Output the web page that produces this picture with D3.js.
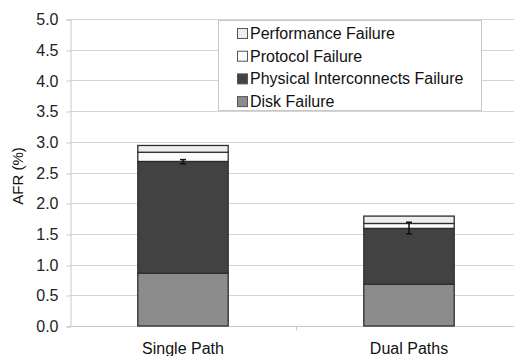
<!DOCTYPE html>
<html>
<head>
<meta charset="utf-8">
<script src="https://cdn.jsdelivr.net/npm/d3@7"></script>
<style>
  body { margin: 0; background: #fff; }
  svg { display: block; font-family: "Liberation Sans", Arial, sans-serif; }
</style>
</head>
<body>
<svg id="chart" width="514" height="356"></svg>
<script>
// AFR breakdown per path configuration (values in %)
const categories = ["Single Path", "Dual Paths"];
const seriesNames = ["Disk Failure", "Physical Interconnects Failure", "Protocol Failure", "Performance Failure"];
const diskFailure = [0.86, 0.68];
const physicalFailure = [1.82, 0.91];
const protocolFailure = [0.15, 0.08];
const performanceFailure = [0.11, 0.12];
// error bars on the cumulative disk + interconnect level
const errLow = [2.64, 1.50];
const errHigh = [2.71, 1.69];
const yTicks = [0, 0.5, 1, 1.5, 2, 2.5, 3, 3.5, 4, 4.5, 5];

const fills = {
  "Disk Failure": "#8c8c8c",
  "Physical Interconnects Failure": "#424242",
  "Protocol Failure": "#fbfbfb",
  "Performance Failure": "#ededed"
};

const svg = d3.select("#chart");
const margin = { left: 70, top: 19 };
const plotW = 452, plotH = 307;

const x = d3.scaleBand().domain(categories).range([margin.left, margin.left + plotW]).paddingInner(0.6).paddingOuter(0.3);
const xEdge = d3.scaleBand().domain(categories).range([margin.left, margin.left + plotW]);
const y = d3.scaleLinear().domain([0, 5]).range([margin.top + plotH, margin.top]);

// gridlines
svg.append("g").selectAll("line").data(yTicks.filter(d => d > 0)).join("line")
  .attr("x1", margin.left).attr("x2", margin.left + plotW)
  .attr("y1", d => Math.round(y(d)) + 0.5).attr("y2", d => Math.round(y(d)) + 0.5)
  .attr("stroke", "#d4d4d4").attr("stroke-width", 1);

// y axis
const yAxis = svg.append("g").attr("transform", `translate(${margin.left + 0.5},0.5)`)
  .call(d3.axisLeft(y).tickValues(yTicks).tickFormat(d3.format(".1f")).tickSize(4).tickPadding(8));
yAxis.select(".domain").attr("stroke", "#c8c8c8");
yAxis.selectAll(".tick line").attr("stroke", "#c8c8c8").attr("transform", d => `translate(0,${Math.round(y(d)) - y(d)})`);
yAxis.selectAll(".tick text").attr("font-size", 16).attr("fill", "#222").attr("font-family", "Liberation Sans, Arial, sans-serif");

// x axis
const xAxisG = svg.append("g").attr("transform", `translate(0.5,${Math.round(y(0)) + 0.5})`);
xAxisG.append("line").attr("x1", margin.left).attr("x2", margin.left + plotW).attr("stroke", "#c8c8c8");
xAxisG.selectAll("line.tk").data(categories.slice(1)).join("line").attr("class", "tk")
  .attr("x1", d => Math.round(xEdge(d))).attr("x2", d => Math.round(xEdge(d)))
  .attr("y1", 0).attr("y2", 4).attr("stroke", "#c8c8c8");
svg.append("g").selectAll("text").data(categories).join("text")
  .attr("x", d => x(d) + x.bandwidth() / 2).attr("y", 354)
  .attr("text-anchor", "middle").attr("font-size", 16).attr("fill", "#111").text(d => d);

// y label
svg.append("text").attr("transform", "translate(23,176) rotate(-90)")
  .attr("text-anchor", "middle").attr("font-size", 15).attr("fill", "#111").text("AFR (%)");

// stacked bars
const table = categories.map((c, i) => ({
  category: c,
  "Disk Failure": diskFailure[i],
  "Physical Interconnects Failure": physicalFailure[i],
  "Protocol Failure": protocolFailure[i],
  "Performance Failure": performanceFailure[i]
}));
const stacked = d3.stack().keys(seriesNames)(table);
svg.append("g").selectAll("g").data(stacked).join("g")
  .attr("fill", d => fills[d.key])
  .selectAll("rect").data(d => d).join("rect")
  .attr("x", d => x(d.data.category))
  .attr("width", x.bandwidth())
  .attr("y", d => y(d[1]))
  .attr("height", d => y(d[0]) - y(d[1]))
  .attr("stroke", "#2e2e2e").attr("stroke-width", 1.3);

// error bars
const eb = svg.append("g").attr("stroke", "#111").attr("stroke-width", 1.5);
categories.forEach((c, i) => {
  const cx = x(c) + x.bandwidth() / 2;
  eb.append("line").attr("x1", cx).attr("x2", cx).attr("y1", y(errLow[i])).attr("y2", y(errHigh[i]));
  eb.append("line").attr("x1", cx - 3).attr("x2", cx + 3).attr("y1", y(errLow[i])).attr("y2", y(errLow[i]));
  eb.append("line").attr("x1", cx - 3).attr("x2", cx + 3).attr("y1", y(errHigh[i])).attr("y2", y(errHigh[i]));
});

// legend
const legend = svg.append("g");
legend.append("rect").attr("x", 218.5).attr("y", 20.5).attr("width", 263).attr("height", 90)
  .attr("fill", "#fff").attr("stroke", "#c8c8c8");
const legendOrder = seriesNames.slice().reverse();
const rows = legend.selectAll("g.row").data(legendOrder).join("g").attr("class", "row")
  .attr("transform", (d, i) => `translate(237,${33 + i * 22.7})`);
rows.append("rect").attr("x", 0.5).attr("y", -4.5).attr("width", 10).attr("height", 10)
  .attr("fill", d => fills[d]).attr("stroke", "#555").attr("stroke-width", 1);
rows.append("text").attr("x", 13).attr("y", 6).attr("font-size", 16).attr("fill", "#111").text(d => d);
</script>
</body>
</html>
